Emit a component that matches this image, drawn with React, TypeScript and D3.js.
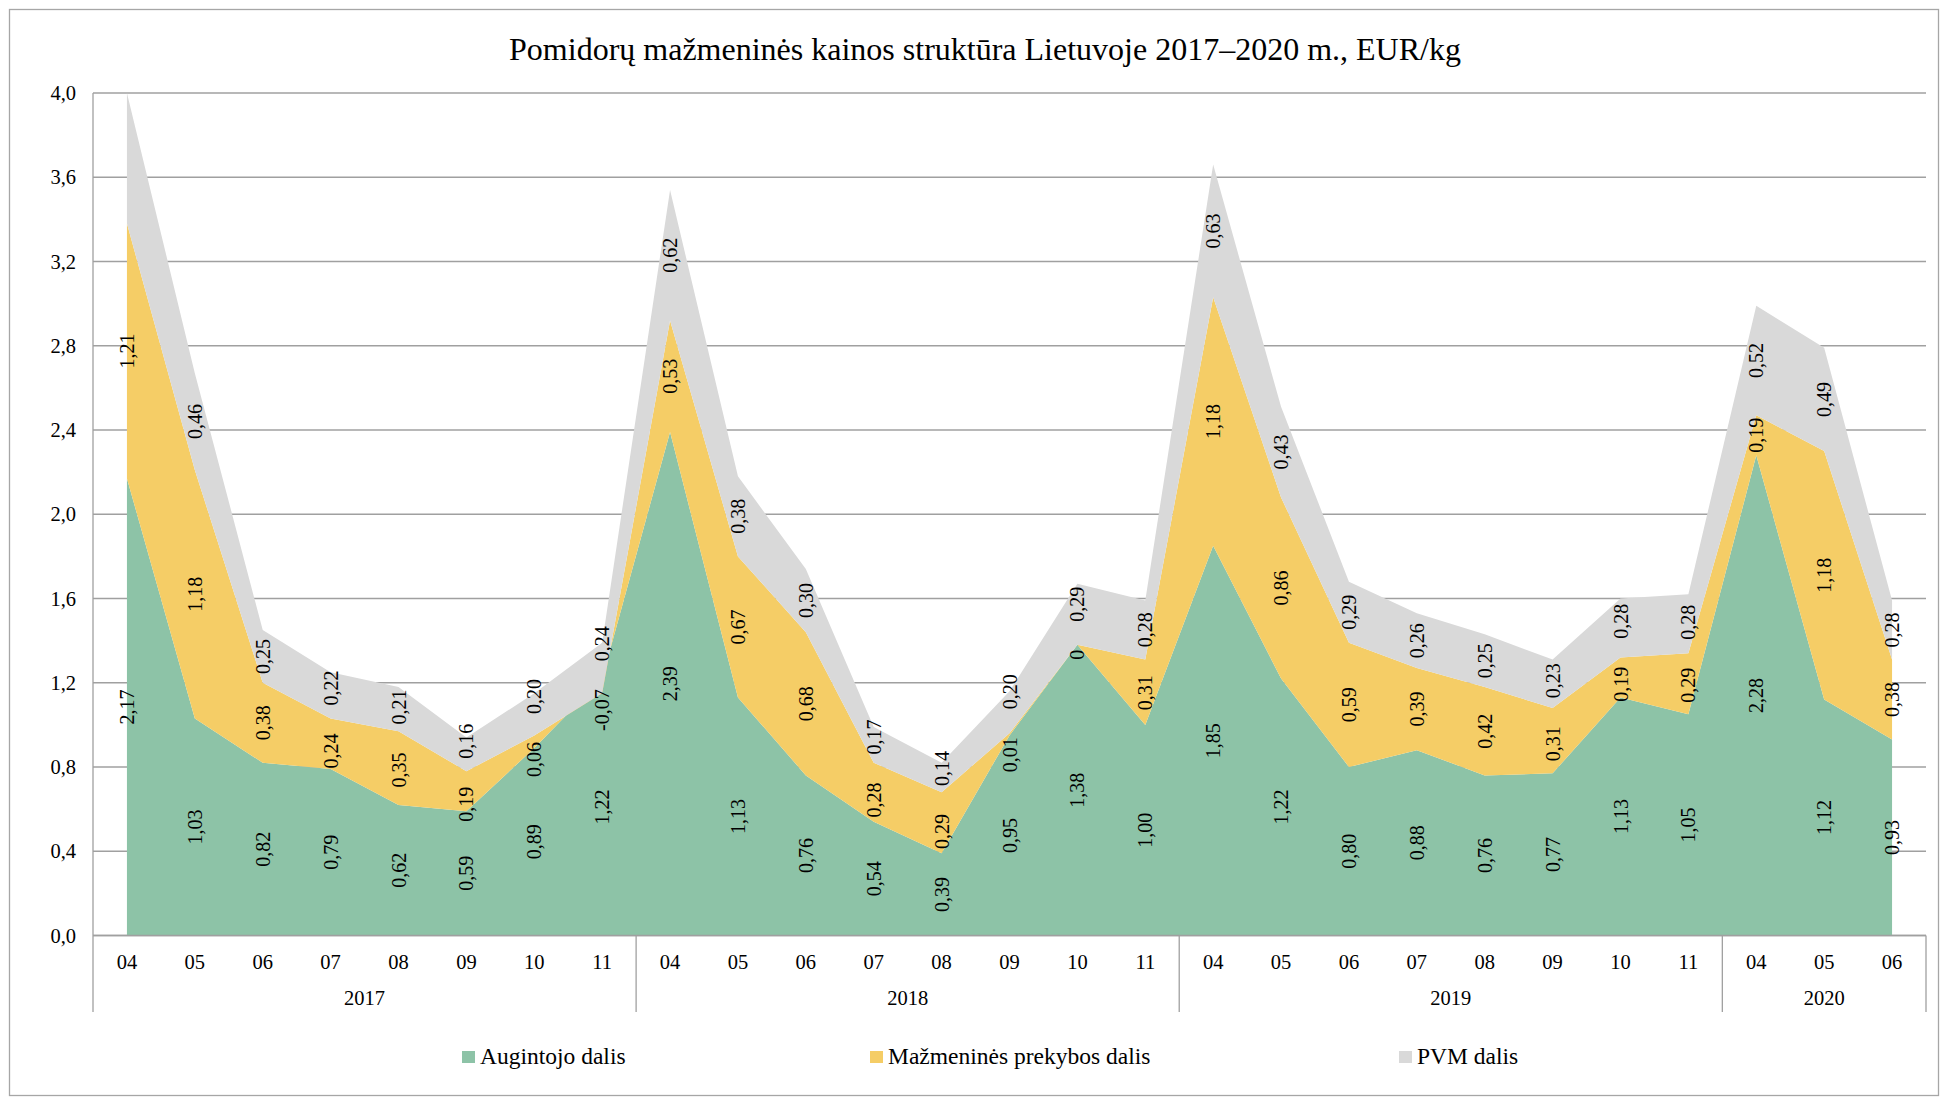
import React from 'react';
import * as d3 from 'd3';

// ---- data ----
const title = 'Pomidorų mažmeninės kainos struktūra Lietuvoje 2017–2020 m., EUR/kg';
const years = ['2017', '2018', '2019', '2020'];
const monthsByYear = [
  ['04', '05', '06', '07', '08', '09', '10', '11'],
  ['04', '05', '06', '07', '08', '09', '10', '11'],
  ['04', '05', '06', '07', '08', '09', '10', '11'],
  ['04', '05', '06'],
];
const augintojoDalis = [
  2.17, 1.03, 0.82, 0.79, 0.62, 0.59, 0.89, 1.22,
  2.39, 1.13, 0.76, 0.54, 0.39, 0.95, 1.38, 1.0,
  1.85, 1.22, 0.8, 0.88, 0.76, 0.77, 1.13, 1.05,
  2.28, 1.12, 0.93,
];
const mazmeninesDalis = [
  1.21, 1.18, 0.38, 0.24, 0.35, 0.19, 0.06, -0.07,
  0.53, 0.67, 0.68, 0.28, 0.29, 0.01, 0, 0.31,
  1.18, 0.86, 0.59, 0.39, 0.42, 0.31, 0.19, 0.29,
  0.19, 1.18, 0.38,
];
const pvmDalis = [
  0.62, 0.46, 0.25, 0.22, 0.21, 0.16, 0.2, 0.24,
  0.62, 0.38, 0.3, 0.17, 0.14, 0.2, 0.29, 0.28,
  0.63, 0.43, 0.29, 0.26, 0.25, 0.23, 0.28, 0.28,
  0.52, 0.49, 0.28,
];
// data labels not shown in the reference: [seriesIndex, pointIndex]
const hiddenLabels = [[2, 0]];
const seriesNames = ['Augintojo dalis', 'Mažmeninės prekybos dalis', 'PVM dalis'];
const seriesColors = ['#8DC3A7', '#F5CD66', '#D9D9D9'];
const yTicks = [0, 0.4, 0.8, 1.2, 1.6, 2.0, 2.4, 2.8, 3.2, 3.6, 4.0];

// ---- layout ----
const W = 1948;
const H = 1100;
const plot = { left: 93, right: 1926, top: 93, bottom: 935.5 };
const FONT = "'Liberation Serif', 'Times New Roman', Times, serif";
const legendX = [462, 870, 1399];
const LABEL_SIZE = 20;
const LABEL_PAD = 14;

const fmt = (v: number) => (v === 0 ? '0' : v.toFixed(2).replace('.', ','));
// approximate Times glyph advance widths (em)
const textLen = (s: string, size: number) =>
  s.split('').reduce((acc, ch) => acc + (ch === ',' ? 0.25 : ch === '-' ? 0.333 : 0.5), 0) * size;

export default function App() {
  const n = augintojoDalis.length;
  const rows = d3.range(n).map((i) => ({
    a: augintojoDalis[i],
    m: mazmeninesDalis[i],
    p: pvmDalis[i],
  }));
  const keys = ['a', 'm', 'p'];
  const stacked = d3.stack<any>().keys(keys).offset(d3.stackOffsetNone)(rows);

  const x = d3.scaleBand<number>().domain(d3.range(n)).range([plot.left, plot.right]).padding(0);
  const cx = (i: number) => (x(i) as number) + x.bandwidth() / 2;
  const y = d3.scaleLinear().domain([0, 4]).range([plot.bottom, plot.top]);

  const area = d3
    .area<any>()
    .x((_d, i) => cx(i))
    .y0((d) => y(d[0]))
    .y1((d) => y(d[1]));

  // groups
  const groups: { year: string; start: number; end: number }[] = [];
  let idx = 0;
  monthsByYear.forEach((ms, gi) => {
    groups.push({ year: years[gi], start: idx, end: idx + ms.length });
    idx += ms.length;
  });
  const monthLabels = monthsByYear.flat();

  const isHidden = (s: number, i: number) => hiddenLabels.some(([hs, hi]) => hs === s && hi === i);

  // data labels with simple per-column collision avoidance
  const labels: { key: string; x: number; y: number; text: string }[] = [];
  for (let i = 0; i < n; i++) {
    const col: { key: string; y: number; half: number; text: string }[] = [];
    stacked.forEach((s, si) => {
      if (isHidden(si, i)) return;
      const d = s[i];
      const v = (rows[i] as any)[keys[si]] as number;
      const t = fmt(v);
      col.push({ key: si + '-' + i, y: y((d[0] + d[1]) / 2), half: textLen(t, LABEL_SIZE) / 2 + LABEL_PAD, text: t });
    });
    for (let it = 0; it < 30; it++) {
      for (let j = 0; j < col.length - 1; j++) {
        const lo = col[j];
        const hi = col[j + 1];
        const need = lo.half + hi.half;
        const gap = lo.y - hi.y;
        if (gap < need) {
          const push = (need - gap) / 2;
          lo.y += push;
          hi.y -= push;
        }
      }
    }
    col.forEach((c) => labels.push({ key: c.key, x: cx(i), y: c.y, text: c.text }));
  }

  const sepBottom = 1012;
  const gridColor = '#A0A0A0';
  const txt = { fontFamily: FONT };

  return (
    <svg
      width={W}
      height={H}
      style={{ position: 'absolute', left: 0, top: 0, background: '#fff', fontFamily: FONT }}
    >
      <rect x={0} y={0} width={W} height={H} fill="#fff" />
      <rect x={9.5} y={9.5} width={1929} height={1086} fill="#fff" stroke="#A6A6A6" strokeWidth={1.3} />
      <text x={985} y={60} textAnchor="middle" fontSize={32} fill="#000" style={txt}>
        {title}
      </text>

      {/* gridlines */}
      {yTicks.map((t) => (
        <line key={t} x1={plot.left} x2={plot.right} y1={y(t)} y2={y(t)} stroke={gridColor} strokeWidth={1.3} />
      ))}

      {/* areas */}
      {stacked.map((s, si) => (
        <path key={si} d={area(s as any) || ''} fill={seriesColors[si]} />
      ))}

      {/* axes */}
      <line x1={plot.left} x2={plot.left} y1={plot.top} y2={sepBottom} stroke={gridColor} strokeWidth={1.3} />
      <line x1={plot.left} x2={plot.right} y1={plot.bottom} y2={plot.bottom} stroke={gridColor} strokeWidth={1.3} />
      {groups.map((g) => (
        <line
          key={g.year}
          x1={x(g.end - 1)! + x.bandwidth()}
          x2={x(g.end - 1)! + x.bandwidth()}
          y1={plot.bottom}
          y2={sepBottom}
          stroke={gridColor}
          strokeWidth={1.3}
        />
      ))}

      {/* y tick labels */}
      {yTicks.map((t) => (
        <text key={t} x={76} y={y(t) + 7} textAnchor="end" fontSize={20.5} style={txt}>
          {t.toFixed(1).replace('.', ',')}
        </text>
      ))}

      {/* month labels */}
      {monthLabels.map((m, i) => (
        <text key={i} x={cx(i)} y={969} textAnchor="middle" fontSize={20.5} style={txt}>
          {m}
        </text>
      ))}
      {/* year labels */}
      {groups.map((g) => (
        <text
          key={g.year}
          x={(x(g.start)! + x(g.end - 1)! + x.bandwidth()) / 2}
          y={1005}
          textAnchor="middle"
          fontSize={20.5}
          style={txt}
        >
          {g.year}
        </text>
      ))}

      {/* data labels */}
      {labels.map((l) => (
        <text
          key={l.key}
          transform={`translate(${l.x + 7},${l.y}) rotate(-90)`}
          textAnchor="middle"
          fontSize={LABEL_SIZE}
          style={txt}
        >
          {l.text}
        </text>
      ))}

      {/* legend */}
      {seriesNames.map((name, i) => (
        <g key={name}>
          <rect x={legendX[i]} y={1051} width={13} height={12} fill={seriesColors[i]} />
          <text x={legendX[i] + 18} y={1064} fontSize={23.5} style={txt}>
            {name}
          </text>
        </g>
      ))}
    </svg>
  );
}
